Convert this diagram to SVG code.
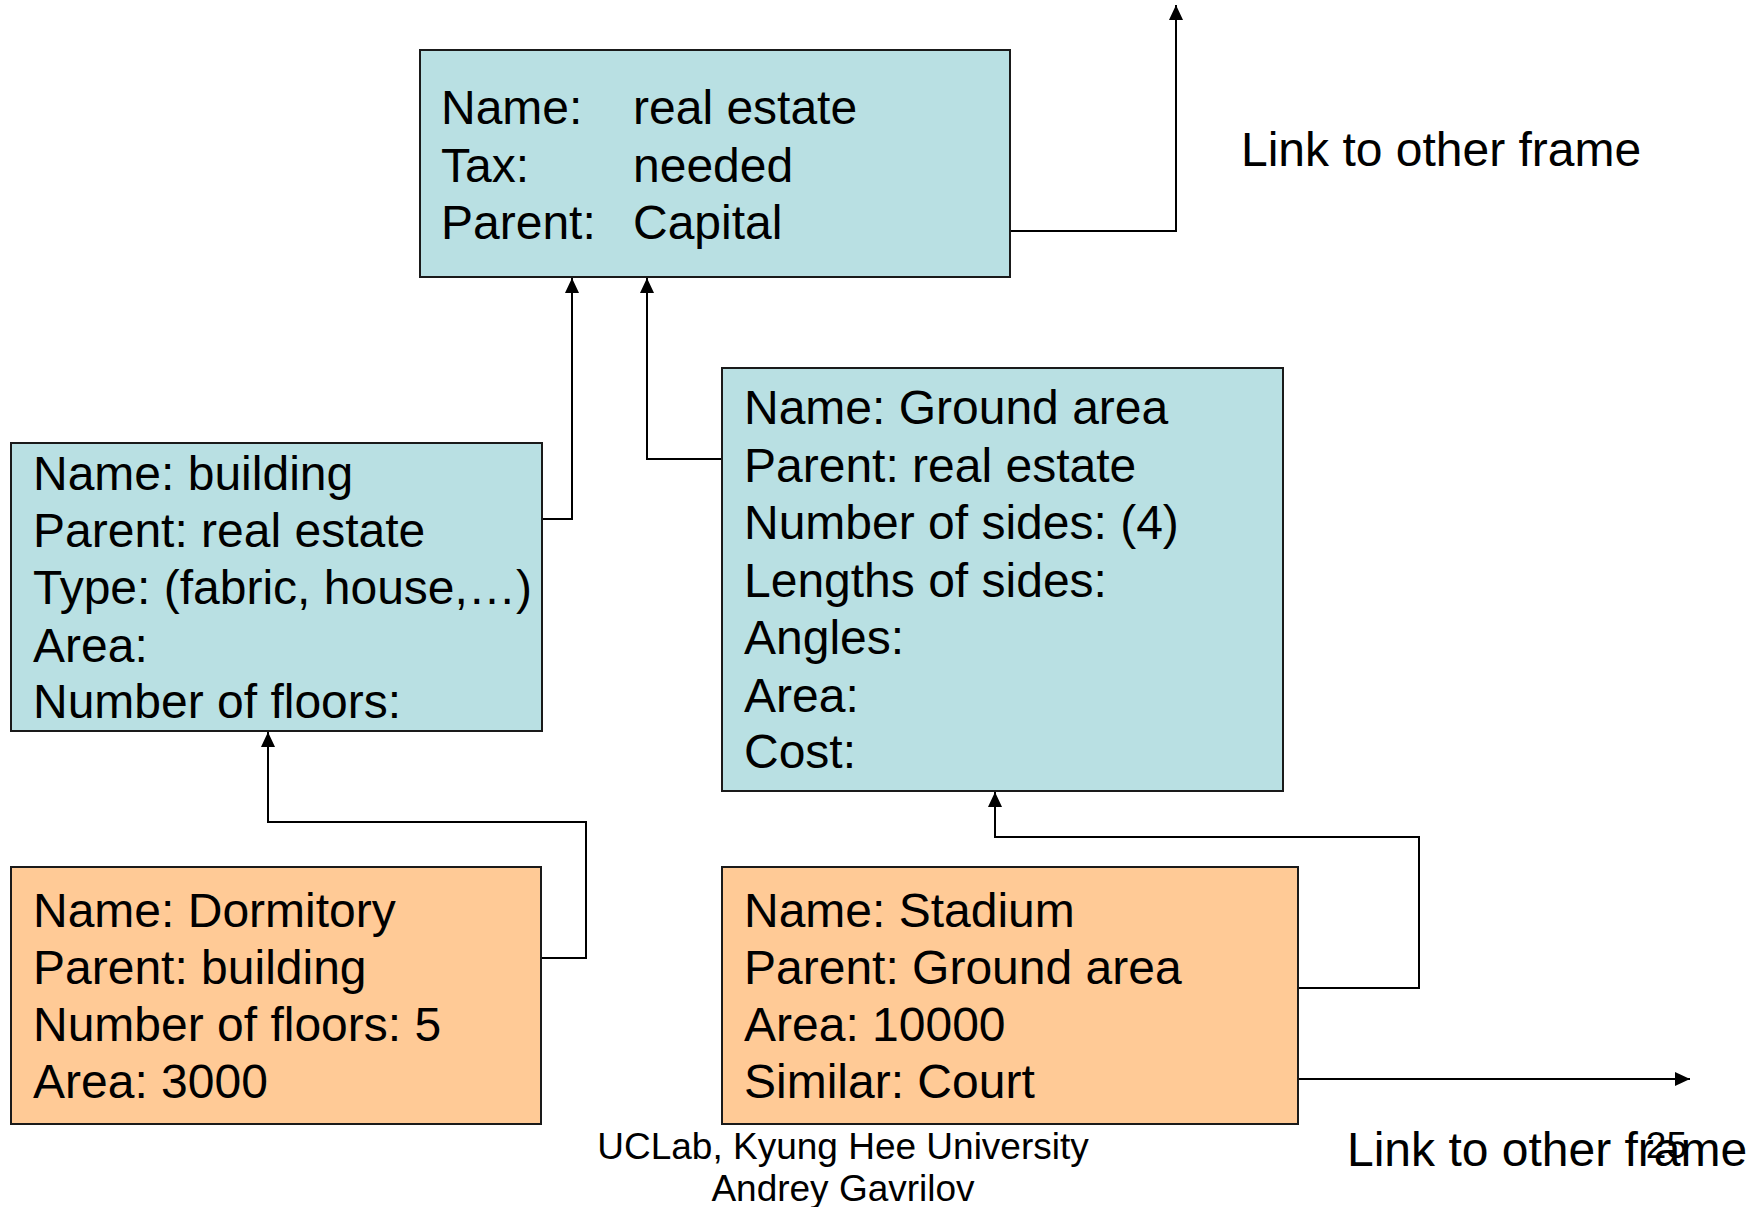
<svg xmlns="http://www.w3.org/2000/svg" width="1759" height="1207" viewBox="0 0 1759 1207">
  <style>
    .frame { stroke: #1a1a1a; stroke-width: 2; }
    .generic { fill: #b9e0e3; }
    .instance { fill: #ffca96; }
    .slot { font-family: "Liberation Sans", Arial, sans-serif; font-size: 48px; fill: #000; }
    .foot { font-family: "Liberation Sans", Arial, sans-serif; font-size: 37px; fill: #000; }
    .link { fill: none; stroke: #000; stroke-width: 2; }
  </style>
  <defs>
    <marker id="arrow" markerUnits="userSpaceOnUse" markerWidth="16" markerHeight="16" refX="15" refY="7" orient="auto">
      <path d="M0,0 L15,7 L0,14 Z" fill="#000"/>
    </marker>
  </defs>

  <rect width="1759" height="1207" fill="#fff"/>

  <!-- inheritance and reference links -->
  <g id="connectors">
    <path class="link" d="M1010,231 H1176 V5" marker-end="url(#arrow)"/>
    <path class="link" d="M542,519 H572 V278" marker-end="url(#arrow)"/>
    <path class="link" d="M722,459 H647 V278" marker-end="url(#arrow)"/>
    <path class="link" d="M541,958 H586 V822 H268 V732" marker-end="url(#arrow)"/>
    <path class="link" d="M1298,988 H1419 V837 H995 V792" marker-end="url(#arrow)"/>
    <path class="link" d="M1298,1079 H1690" marker-end="url(#arrow)"/>
  </g>

  <g id="frame-real-estate">
    <rect class="frame generic" x="420" y="50" width="590" height="227"/>
    <text class="slot" x="441" y="124">Name:</text>
    <text class="slot" x="633" y="124">real estate</text>
    <text class="slot" x="441" y="182">Tax:</text>
    <text class="slot" x="633" y="182">needed</text>
    <text class="slot" x="441" y="239">Parent:</text>
    <text class="slot" x="633" y="239">Capital</text>
  </g>

  <g id="frame-building">
    <rect class="frame generic" x="11" y="443" width="531" height="288"/>
    <text class="slot" x="33" y="490">Name: building</text>
    <text class="slot" x="33" y="547">Parent: real estate</text>
    <text class="slot" x="33" y="604">Type: (fabric, house,…)</text>
    <text class="slot" x="33" y="662">Area:</text>
    <text class="slot" x="33" y="718">Number of floors:</text>
  </g>

  <g id="frame-ground-area">
    <rect class="frame generic" x="722" y="368" width="561" height="423"/>
    <text class="slot" x="744" y="424">Name: Ground area</text>
    <text class="slot" x="744" y="482">Parent: real estate</text>
    <text class="slot" x="744" y="539">Number of sides: (4)</text>
    <text class="slot" x="744" y="597">Lengths of sides:</text>
    <text class="slot" x="744" y="654">Angles:</text>
    <text class="slot" x="744" y="712">Area:</text>
    <text class="slot" x="744" y="768">Cost:</text>
  </g>

  <g id="frame-dormitory">
    <rect class="frame instance" x="11" y="867" width="530" height="257"/>
    <text class="slot" x="33" y="927">Name: Dormitory</text>
    <text class="slot" x="33" y="984">Parent: building</text>
    <text class="slot" x="33" y="1041">Number of floors: 5</text>
    <text class="slot" x="33" y="1098">Area: 3000</text>
  </g>

  <g id="frame-stadium">
    <rect class="frame instance" x="722" y="867" width="576" height="257"/>
    <text class="slot" x="744" y="927">Name: Stadium</text>
    <text class="slot" x="744" y="984">Parent: Ground area</text>
    <text class="slot" x="744" y="1041">Area: 10000</text>
    <text class="slot" x="744" y="1098">Similar: Court</text>
  </g>

  <g id="label-link-top">
    <text class="slot" x="1241" y="166">Link to other frame</text>
  </g>
  <g id="label-link-bottom">
    <text class="slot" x="1347" y="1166">Link to other frame</text>
  </g>

  <g id="footer">
    <text class="foot" x="843" y="1159" text-anchor="middle">UCLab, Kyung Hee University</text>
    <text class="foot" x="843" y="1201" text-anchor="middle">Andrey Gavrilov</text>
    <text class="foot" x="1687" y="1158" text-anchor="end">25</text>
  </g>
</svg>
